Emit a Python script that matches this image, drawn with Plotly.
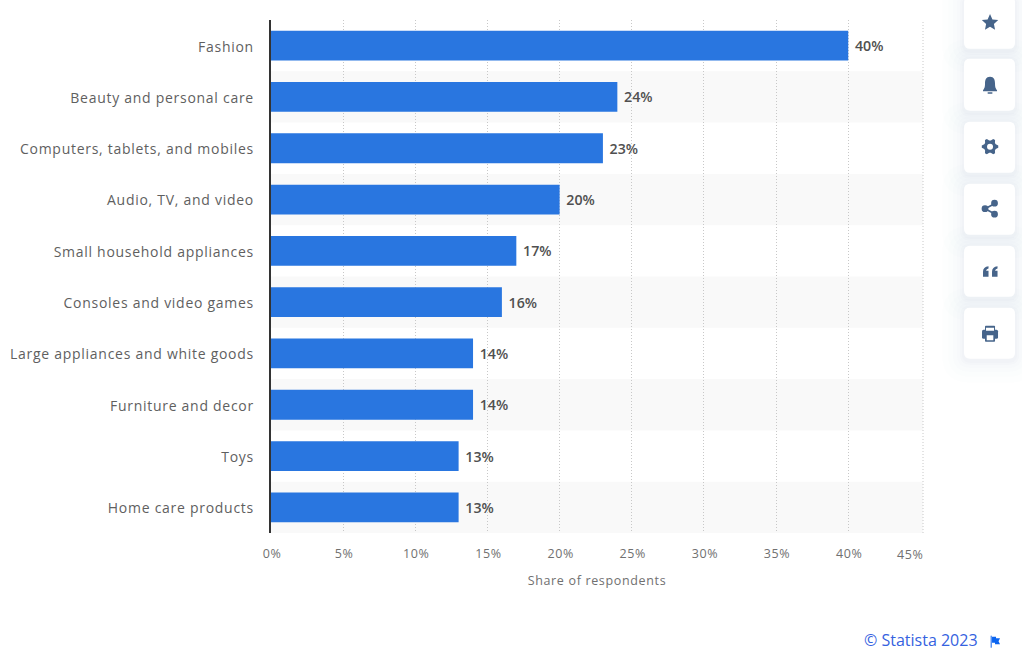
import math
import plotly.graph_objects as go

categories = ["Fashion", "Beauty and personal care", "Computers, tablets, and mobiles",
              "Audio, TV, and video", "Small household appliances", "Consoles and video games",
              "Large appliances and white goods", "Furniture and decor", "Toys", "Home care products"]
values = [40, 24, 23, 20, 17, 16, 14, 14, 13, 13]
tick_values = [0, 5, 10, 15, 20, 25, 30, 35, 40]
tick_labels = ["0%", "5%", "10%", "15%", "20%", "25%", "30%", "35%", "40%"]
last_tick_label = "45%"
axis_max = 45.18

W, H = 1022, 657
L, R, T, B = 271.2, 923, 20.3, 533.3
FONT = "Open Sans"
ICON = "#46648a"
GRID = "#c8c8c8"

def px(x): return (x - L) / (R - L)
def py(y): return (B - y) / (B - T)

def path(tokens):
    """tokens: letters and x,y pixel pairs"""
    out, i = [], 0
    while i < len(tokens):
        t = tokens[i]
        if isinstance(t, str):
            out.append(t); i += 1
        else:
            out.append(f"{px(t):.5f},{py(tokens[i+1]):.5f}"); i += 2
    return " ".join(out)

def pshape(tokens, color, **kw):
    return dict(type="path", xref="paper", yref="paper", path=path(tokens), fillcolor=color,
                line=dict(width=0), layer="above", **kw)

def rrect(x0, y0, x1, y1, r):
    return ["M", x0 + r, y0, "L", x1 - r, y0, "Q", x1, y0, x1, y0 + r, "L", x1, y1 - r,
            "Q", x1, y1, x1 - r, y1, "L", x0 + r, y1, "Q", x0, y1, x0, y1 - r, "L", x0, y0 + r,
            "Q", x0, y0, x0 + r, y0, "Z"]

def circ(cx, cy, r, color=ICON):
    return dict(type="circle", xref="paper", yref="paper", x0=px(cx - r), x1=px(cx + r),
                y0=py(cy + r), y1=py(cy - r), fillcolor=color, line=dict(width=0), layer="above")

shapes = []
# alternating row bands
for i in range(1, len(categories), 2):
    shapes.append(dict(type="rect", xref="paper", yref="y", x0=0, x1=1, y0=i - 0.5, y1=i + 0.5,
                       fillcolor="#f9f9f9", line=dict(width=0), layer="below"))
# right-edge gridline
shapes.append(dict(type="line", xref="paper", yref="paper", x0=1, x1=1, y0=0, y1=1,
                   line=dict(color=GRID, width=1, dash="1px,2px"), layer="below"))

# side-bar cards
cards = [(-3, 49), (59, 111), (122, 173), (184, 235), (246, 297), (308, 359)]
for y0, y1 in cards:
    for g, a in ((22, .006), (16, .008), (11, .010), (7, .012), (4, .014), (2, .016)):
        shapes.append(pshape(rrect(964 - g, y0 - g + 2, 1015 + g, y1 + g + 2, 6 + g), f"rgba(60,80,130,{a})"))
for y0, y1 in cards:
    shapes.append(pshape(rrect(964, y0, 1015, y1, 6), "#ffffff"))

# star
cx, cy = 990, 23
star = []
for k in range(10):
    r = 8.6 if k % 2 == 0 else 4.1
    a = -math.pi / 2 + k * math.pi / 5
    star += ["M" if k == 0 else "L", cx + r * math.cos(a), cy + r * math.sin(a)]
shapes.append(pshape(star + ["Z"], ICON))
# bell
shapes.append(pshape(["M", 990, 77, "C", 986, 77, 985, 80, 985, 84, "C", 985, 88, 984, 89, 983, 90.5,
                      "L", 983, 91.5, "L", 997, 91.5, "L", 997, 90.5, "C", 996, 89, 995, 88, 995, 84,
                      "C", 995, 80, 994, 77, 990, 77, "Z"], ICON))
shapes.append(pshape(rrect(987.5, 92.5, 992.5, 94, .6), ICON))
# gear
cx, cy = 990, 147
gear = []
for k in range(24):
    a = k * math.pi / 12 + math.pi / 24
    r = 8.3 if k % 4 in (0, 3) else 6.2
    gear += ["M" if k == 0 else "L", cx + r * math.cos(a), cy + r * math.sin(a)]
shapes.append(pshape(gear + ["Z"], ICON))
shapes.append(circ(cx, cy, 3, "#ffffff"))
# share
shapes.append(dict(type="path", xref="paper", yref="paper", path=path(["M", 994.5, 204, "L", 985, 209, "L", 994.5, 214]),
                   line=dict(color=ICON, width=1.8), layer="above"))
shapes += [circ(985, 209, 3.4), circ(994.5, 203.5, 3.4), circ(994.5, 214.5, 3.4)]
# quotes
for dx in (0, 9):
    shapes.append(pshape(["M", 983 + dx, 272, "Q", 983 + dx, 267, 988.5 + dx, 266.5, "L", 988.5 + dx, 268.8,
                          "Q", 986.5 + dx, 269, 986 + dx, 271, "L", 988.5 + dx, 271, "L", 988.5 + dx, 277,
                          "L", 983 + dx, 277, "Z"], ICON))
# printer
shapes.append(pshape(rrect(985, 326, 995, 331, .8), ICON))
shapes.append(pshape(rrect(982, 330, 998, 339, 1.5), ICON))
shapes.append(pshape(rrect(986, 328, 994, 331, 0), "#ffffff"))
shapes.append(pshape(rrect(985, 335, 995, 342, .8), ICON))
shapes.append(pshape(rrect(986.7, 335.5, 993.3, 340.5, 0), "#ffffff"))
# flag
shapes.append(pshape(["M", 990.5, 636, "L", 992, 636, "L", 992, 648, "L", 990.5, 648, "Z"], "#5b93f0"))
shapes.append(pshape(["M", 992, 637, "L", 996, 637, "L", 996, 638.5, "L", 1000, 638.5, "L", 998.5, 641.5,
                      "L", 1000, 644.5, "L", 995, 644.5, "L", 995, 643, "L", 992, 643, "Z"], "#0a64f0"))

fig = go.Figure(go.Bar(
    y=categories, x=values, orientation="h", marker=dict(color="#2976e0", line=dict(width=0)),
    text=[f"\u00a0{v}%" for v in values], textposition="outside", cliponaxis=False,
    textfont=dict(family=FONT, size=14.2, color="#505050", weight=600), hoverinfo="skip",
))

annotations = [
    dict(text=last_tick_label, xref="paper", yref="paper", x=1.003, y=py(554.5), xanchor="right", yanchor="middle",
         showarrow=False, font=dict(family=FONT, size=12.5, color="#707070")),
    dict(text="© Statista 2023", xref="paper", yref="paper", x=px(980), y=py(640), xanchor="right",
         yanchor="middle", showarrow=False, font=dict(family=FONT, size=16, color="#3562e0")),
]

fig.update_layout(
    width=W, height=H, autosize=False, showlegend=False,
    margin=dict(l=L, r=W - R, t=T, b=H - B, pad=0),
    paper_bgcolor="#ffffff", plot_bgcolor="rgba(0,0,0,0)",
    bargap=0.42, shapes=shapes, annotations=annotations,
    xaxis=dict(range=[0, axis_max], tickvals=tick_values, ticktext=tick_labels, showgrid=True,
               gridcolor=GRID, griddash="1px,2px", gridwidth=1, zeroline=False, showline=False,
               ticks="outside", ticklen=9, tickcolor="rgba(0,0,0,0)", ticklabelshift=1,
               tickfont=dict(family=FONT, size=12.5, color="#707070"),
               title=dict(text="Share of respondents", standoff=15,
                          font=dict(family=FONT, size=12.5, color="#707070"))),
    yaxis=dict(autorange="reversed", showgrid=False, zeroline=False, showline=True, linecolor="#333333",
               linewidth=1.5, ticks="outside", ticklen=12.5, tickcolor="rgba(0,0,0,0)", ticklabelshift=-1,
               tickfont=dict(family=FONT, size=14, color="#5f5f5f")),
)

css = (".ytick text{letter-spacing:.72px}"
       ".xtick text,.annotation[data-index='0'] .annotation-text{letter-spacing:.6px}"
       ".xtitle{letter-spacing:.66px}")
fig.write_html("out.html", config={"displayModeBar": False},
               post_script="document.body.style.margin='0';document.documentElement.style.overflow='hidden';"
                           "var s=document.createElement('style');s.textContent=" + repr(css) + ";document.head.appendChild(s);")
